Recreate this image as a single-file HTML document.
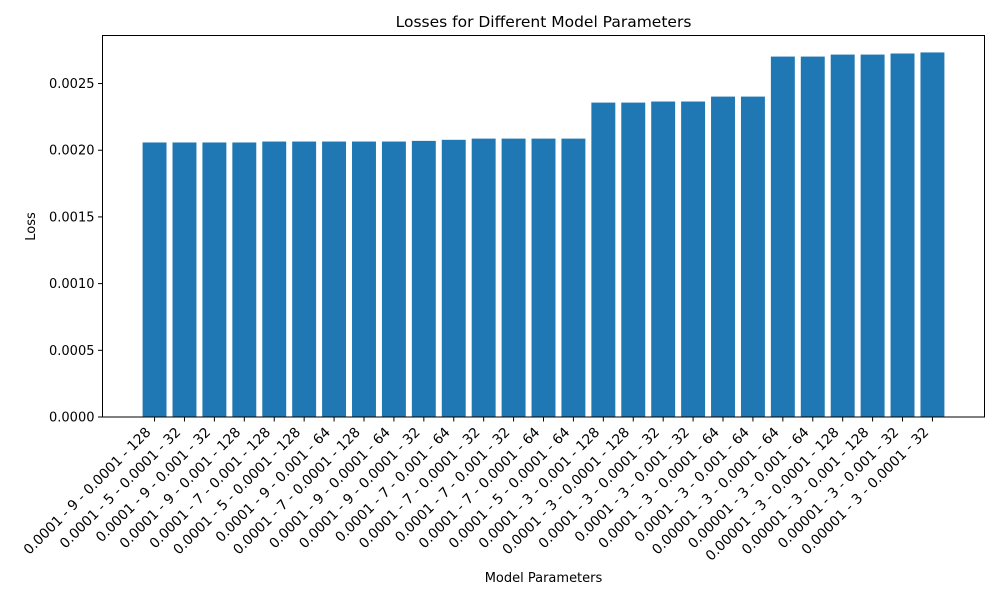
<!DOCTYPE html>
<html><head><meta charset="utf-8"><style>
body{margin:0;background:#fff;}
svg{display:block;font-family:"DejaVu Sans","Liberation Sans",sans-serif;}
</style></head><body>
<svg id="chart" width="1000" height="600" xmlns="http://www.w3.org/2000/svg">
<rect width="1000" height="600" fill="#fff"/>
<text x="543.5" y="27" font-size="15.5" text-anchor="middle">Losses for Different Model Parameters</text>
<text x="543.5" y="582" font-size="13" text-anchor="middle">Model Parameters</text>
<text transform="translate(35,226.5) rotate(-90)" font-size="13" text-anchor="middle">Loss</text>
<g id="bars"></g><g id="axes"></g>
<rect x="102.5" y="35.5" width="882" height="381.5" fill="none" stroke="#000" stroke-width="1"/>
</svg>
<script>
const categories = ["0.0001 - 9 - 0.0001 - 128","0.0001 - 5 - 0.0001 - 32","0.0001 - 9 - 0.001 - 32","0.0001 - 9 - 0.001 - 128","0.0001 - 7 - 0.001 - 128","0.0001 - 5 - 0.0001 - 128","0.0001 - 9 - 0.001 - 64","0.0001 - 7 - 0.0001 - 128","0.0001 - 9 - 0.0001 - 64","0.0001 - 9 - 0.0001 - 32","0.0001 - 7 - 0.001 - 64","0.0001 - 7 - 0.0001 - 32","0.0001 - 7 - 0.001 - 32","0.0001 - 7 - 0.0001 - 64","0.0001 - 5 - 0.0001 - 64","0.0001 - 3 - 0.001 - 128","0.0001 - 3 - 0.0001 - 128","0.0001 - 3 - 0.0001 - 32","0.0001 - 3 - 0.001 - 32","0.0001 - 3 - 0.0001 - 64","0.0001 - 3 - 0.001 - 64","0.00001 - 3 - 0.0001 - 64","0.00001 - 3 - 0.001 - 64","0.00001 - 3 - 0.0001 - 128","0.00001 - 3 - 0.001 - 128","0.00001 - 3 - 0.001 - 32","0.00001 - 3 - 0.0001 - 32"];
const losses = [0.002058,0.002058,0.002058,0.002058,0.002065,0.002065,0.002065,0.002065,0.002065,0.00207,0.002078,0.002087,0.002087,0.002087,0.002087,0.002357,0.002357,0.002365,0.002365,0.002402,0.002402,0.002702,0.002702,0.002717,0.002717,0.002725,0.002733];
const yTicks = [0,0.0005,0.001,0.0015,0.002,0.0025];
const yTickLabels = ["0.0000","0.0005","0.0010","0.0015","0.0020","0.0025"];
const NS="http://www.w3.org/2000/svg";
const L=102.5,R=984.5,T=35.5,B=417;
const n=categories.length;
const x0=-0.4-0.05*(n-0.2), x1=n-1+0.4+0.05*(n-0.2);
const yMax=0.00286;
function xs(v){return L+(v-x0)/(x1-x0)*(R-L);}
function ys(v){return B-v/yMax*(B-T);}
const bw=(xs(0.8)-xs(0));
const gb=document.getElementById('bars'),ga=document.getElementById('axes');
losses.forEach((v,i)=>{
  const r=document.createElementNS(NS,'rect');
  
  
  r.setAttribute('x',xs(i)-bw/2);r.setAttribute('width',bw);
  r.setAttribute('y',ys(v));r.setAttribute('height',B-ys(v));
  r.setAttribute('fill','#1f77b4');gb.appendChild(r);
  const t=document.createElementNS(NS,'line');
  
  
  t.setAttribute('x1',xs(i));t.setAttribute('x2',xs(i));t.setAttribute('y1',B);t.setAttribute('y2',B+4.5);
  t.setAttribute('stroke','#000');ga.appendChild(t);
  const tx=document.createElementNS(NS,'text');
  
  
  tx.setAttribute('font-size','13.8');tx.setAttribute('text-anchor','end');
  tx.setAttribute('transform','translate('+(xs(i)-3)+','+(B+16)+') rotate(-45)');
  tx.textContent=categories[i];ga.appendChild(tx);
});
yTicks.forEach((v,i)=>{
  const t=document.createElementNS(NS,'line');
  
  
  t.setAttribute('x1',L-4.5);t.setAttribute('x2',L);t.setAttribute('y1',ys(v));t.setAttribute('y2',ys(v));
  t.setAttribute('stroke','#000');ga.appendChild(t);
  const tx=document.createElementNS(NS,'text');
  
  
  tx.setAttribute('font-size','13');tx.setAttribute('text-anchor','end');
  tx.setAttribute('x',L-8);tx.setAttribute('y',ys(v)+4.5);
  tx.textContent=yTickLabels[i];ga.appendChild(tx);
});
</script>
</body></html>
